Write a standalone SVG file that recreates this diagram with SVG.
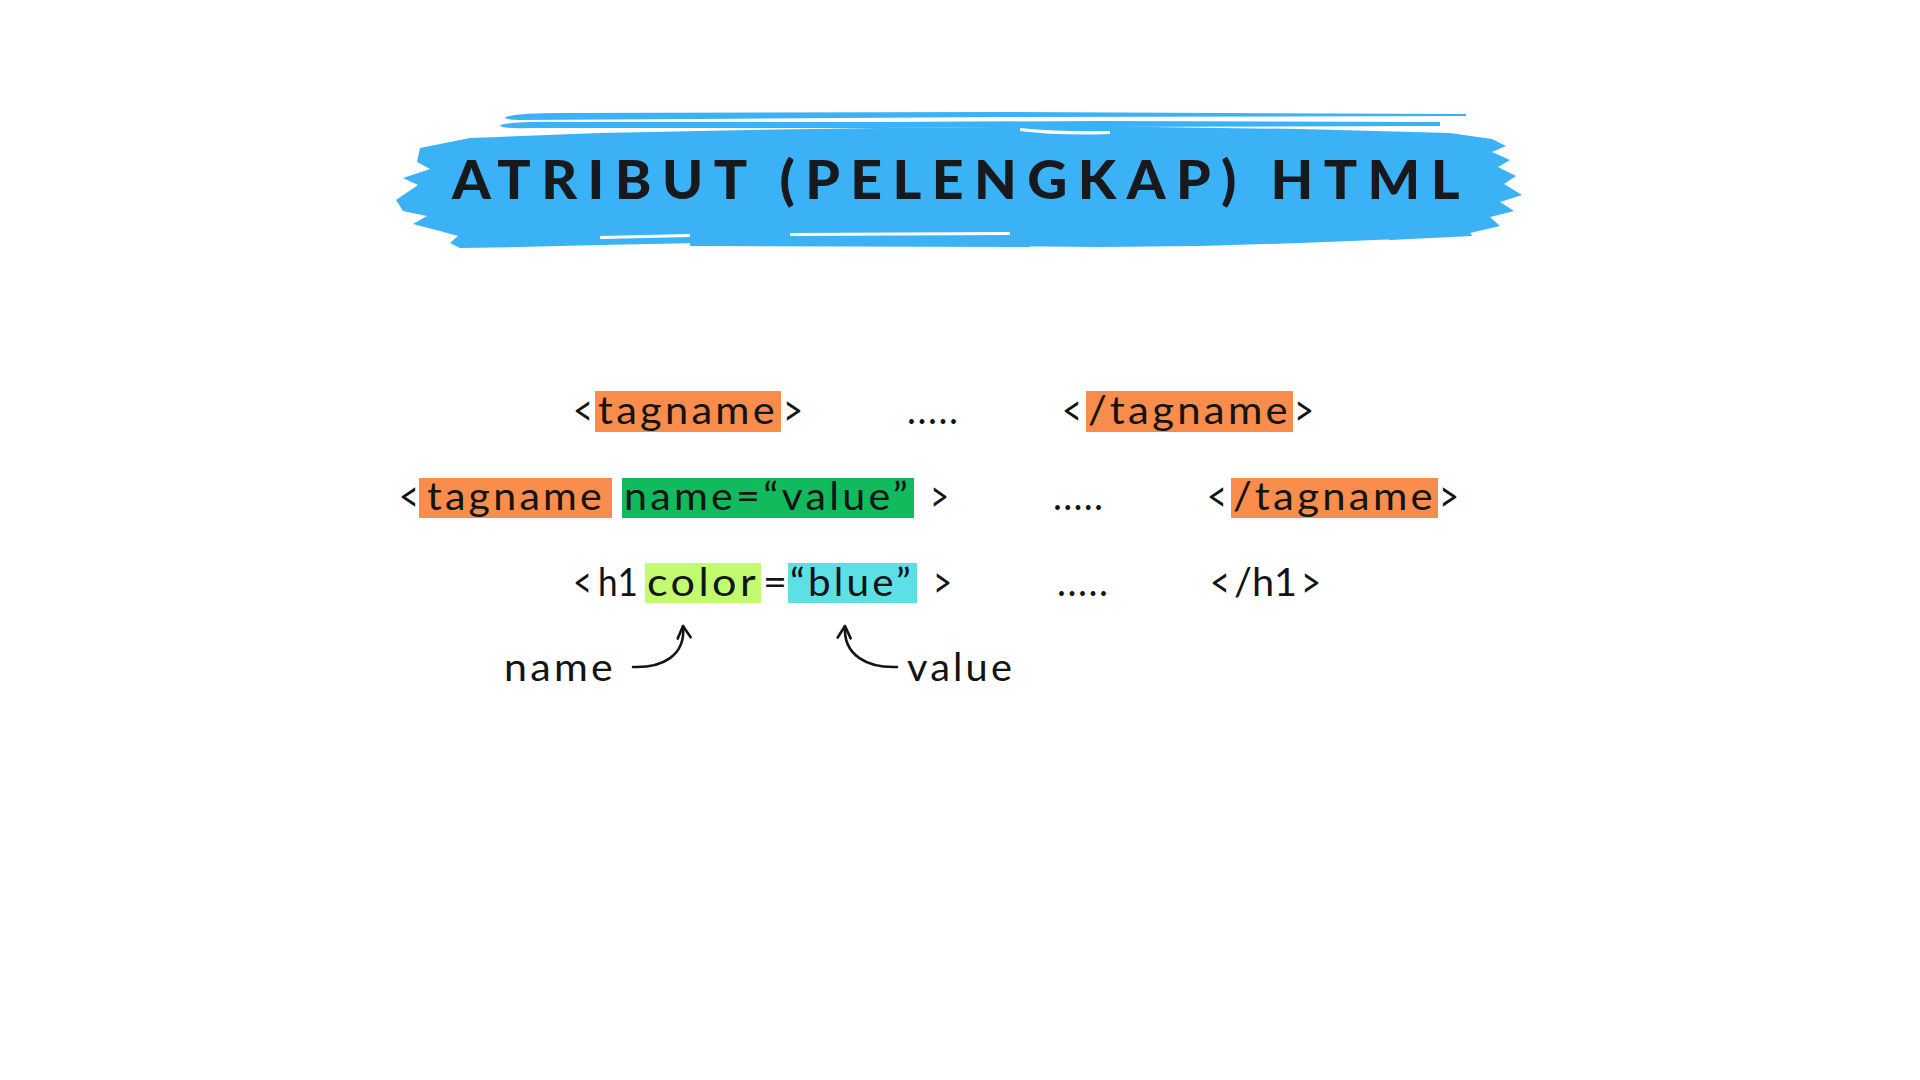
<svg xmlns="http://www.w3.org/2000/svg" width="1920" height="1080" viewBox="0 0 1920 1080">
  <style>
    .code { font-family: "Lato", "Liberation Sans", sans-serif; font-size: 38px; font-weight: 400; fill: #141414; }
    .br { font-size: 44px; }
    .trk { letter-spacing: 3px; }
    .title { font-family: "Lato", "Liberation Sans", sans-serif; font-size: 53px; font-weight: 900; fill: #17191c; letter-spacing: 10px; }
    .brush { fill: #3bb2f6; }
    .gap { fill: #ffffff; }
    .hl-tag { fill: #fa8c4c; }
    .hl-attr { fill: #12ba5e; }
    .hl-name { fill: #c2fb70; }
    .hl-value { fill: #5ddfe6; }
    .pointer { fill: none; stroke: #141414; stroke-width: 2.6; stroke-linecap: round; stroke-linejoin: round; }
  </style>
  <defs>
    <marker id="tip" markerUnits="userSpaceOnUse" markerWidth="20" markerHeight="20" refX="0" refY="0" viewBox="-10 -10 20 20" orient="auto" overflow="visible">
      <path d="M -12 -6.5 L 0 0 L -12 6.5" fill="none" stroke="#141414" stroke-width="2.6" stroke-linecap="round" stroke-linejoin="round"/>
    </marker>
  </defs>

  <rect width="1920" height="1080" fill="#ffffff"/>

  <!-- brush-stroke banner behind the title -->
  <g id="banner">
    <!-- thin streaks above the main stroke -->
    <path class="brush" d="M 505 117 Q 520 113 560 113 L 1000 112 L 1466 114 L 1466 116 L 1000 117 L 700 119 L 520 120 Q 505 120 505 117 Z"/>
    <path class="brush" d="M 500 125 Q 515 121 560 122 L 640 122 L 880 122 L 1100 121 L 1440 122 L 1440 126 L 1100 127 L 880 128 L 640 128 L 530 128 Q 500 129 500 125 Z"/>
    <!-- main stroke -->
    <path class="brush" d="M 420 148 L 470 138 L 600 133 L 750 130 L 880 128 L 1000 127 L 1150 127 L 1300 129 L 1450 133 L 1492 139 L 1506 146 L 1492 152 L 1510 160 L 1498 167 L 1516 176 L 1504 184 L 1522 195 L 1500 202 L 1514 211 L 1490 217 L 1500 226 L 1470 233 L 1400 239 L 1300 243 L 1200 246 L 1100 247 L 1000 246 L 900 244 L 800 242 L 700 243 L 600 245 L 520 247 L 460 248 L 450 243 L 458 236 L 440 231 L 413 224 L 427 216 L 403 211 L 396 200 L 418 185 L 403 178 L 430 169 L 417 162 Z"/>
    <!-- ragged bristle gaps and trailing streaks -->
    <path class="gap" d="M 1020 128 Q 1060 132 1110 131 L 1110 134 Q 1060 136 1020 131 Z"/>
    <path class="gap" d="M 600 236 L 690 234 L 690 237 L 600 239 Z"/>
    <path class="gap" d="M 790 233 L 1010 232 L 1010 235 L 790 236 Z"/>
    <path class="brush" d="M 690 240 L 1030 243 L 1030 247 L 690 246 Z"/>
    <path class="brush" d="M 1380 236 L 1470 232 L 1472 236 L 1390 240 Z"/>
  </g>

  <g id="title">
    <text class="title" x="452" y="199" textLength="1018" lengthAdjust="spacingAndGlyphs">ATRIBUT (PELENGKAP) HTML</text>
  </g>

  <!-- row 1: plain element -->
  <g id="row-plain">
    <rect class="hl-tag" x="595" y="391" width="186" height="41"/>
    <rect class="hl-tag" x="1086" y="391" width="207" height="41"/>
    <text class="code br" x="573" y="426" textLength="20" lengthAdjust="spacingAndGlyphs">&lt;</text>
    <text class="code trk" x="598" y="424" textLength="180" lengthAdjust="spacingAndGlyphs">tagname</text>
    <text class="code br" x="783" y="426" textLength="20" lengthAdjust="spacingAndGlyphs">&gt;</text>
    <text class="code" x="907" y="424" textLength="51" lengthAdjust="spacing">.....</text>
    <text class="code br" x="1062" y="426" textLength="20" lengthAdjust="spacingAndGlyphs">&lt;</text>
    <text class="code trk" x="1088" y="424" textLength="203" lengthAdjust="spacingAndGlyphs">/tagname</text>
    <text class="code br" x="1294" y="426" textLength="20" lengthAdjust="spacingAndGlyphs">&gt;</text>
  </g>

  <!-- row 2: element with an attribute -->
  <g id="row-attribute">
    <rect class="hl-tag" x="419" y="478" width="193" height="40"/>
    <rect class="hl-attr" x="622" y="478" width="292" height="40"/>
    <rect class="hl-tag" x="1231" y="478" width="207" height="40"/>
    <text class="code br" x="399" y="512" textLength="20" lengthAdjust="spacingAndGlyphs">&lt;</text>
    <text class="code trk" x="427" y="510" textLength="178" lengthAdjust="spacingAndGlyphs">tagname</text>
    <text class="code trk" x="624" y="510" textLength="287" lengthAdjust="spacingAndGlyphs">name=“value”</text>
    <text class="code br" x="930" y="512" textLength="19" lengthAdjust="spacingAndGlyphs">&gt;</text>
    <text class="code" x="1053" y="510" textLength="50" lengthAdjust="spacing">.....</text>
    <text class="code br" x="1207" y="512" textLength="20" lengthAdjust="spacingAndGlyphs">&lt;</text>
    <text class="code trk" x="1233" y="510" textLength="203" lengthAdjust="spacingAndGlyphs">/tagname</text>
    <text class="code br" x="1439" y="512" textLength="20" lengthAdjust="spacingAndGlyphs">&gt;</text>
  </g>

  <!-- row 3: h1 example -->
  <g id="row-example">
    <rect class="hl-name" x="645" y="563" width="116" height="40"/>
    <rect class="hl-value" x="788" y="563" width="129" height="40"/>
    <text class="code br" x="573" y="598" textLength="19" lengthAdjust="spacingAndGlyphs">&lt;</text>
    <text class="code" x="598" y="596" textLength="40" lengthAdjust="spacingAndGlyphs">h1</text>
    <text class="code trk" x="647" y="596" textLength="112" lengthAdjust="spacingAndGlyphs">color</text>
    <text class="code" x="763" y="596" textLength="24" lengthAdjust="spacingAndGlyphs">=</text>
    <text class="code trk" x="790" y="596" textLength="124" lengthAdjust="spacingAndGlyphs">“blue”</text>
    <text class="code br" x="933" y="598" textLength="19" lengthAdjust="spacingAndGlyphs">&gt;</text>
    <text class="code" x="1057" y="596" textLength="51" lengthAdjust="spacing">.....</text>
    <text class="code br" x="1210" y="598" textLength="20" lengthAdjust="spacingAndGlyphs">&lt;</text>
    <text class="code" x="1234" y="596" textLength="63" lengthAdjust="spacingAndGlyphs">/h1</text>
    <text class="code br" x="1301" y="598" textLength="20" lengthAdjust="spacingAndGlyphs">&gt;</text>
  </g>

  <g id="label-name">
    <text class="code trk" x="504" y="681" textLength="112" lengthAdjust="spacingAndGlyphs">name</text>
  </g>
  <g id="label-value">
    <text class="code trk" x="907" y="681" textLength="108" lengthAdjust="spacingAndGlyphs">value</text>
  </g>

  <g id="connectors">
    <path class="pointer" d="M 633 667 C 662 668 686 656 683 626" marker-end="url(#tip)"/>
    <path class="pointer" d="M 897 667 C 868 668 843 656 845 626" marker-end="url(#tip)"/>
  </g>
</svg>
